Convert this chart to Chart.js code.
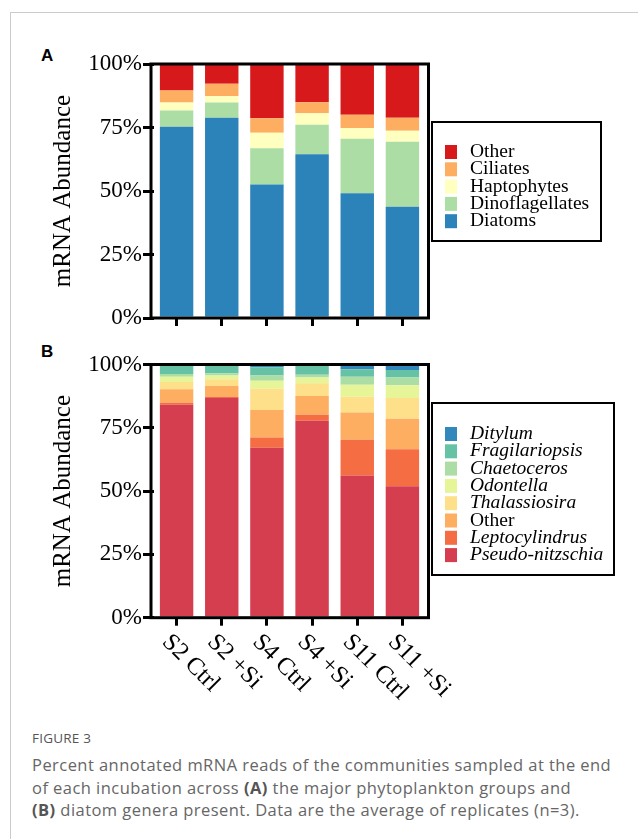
<!DOCTYPE html>
<html>
<head>
<meta charset="utf-8">
<script src="https://cdn.jsdelivr.net/npm/chart.js@4.4.1/dist/chart.umd.min.js"></script>
<style>
  body { margin: 0; background: #fff; }
  #page { position: relative; width: 638px; height: 839px; overflow: hidden; }
  #frame { position: absolute; left: 10px; top: 12px; width: 700px; height: 900px;
           border-left: 1px solid #cbcbcb; border-top: 1px solid #cbcbcb; }
  canvas { position: absolute; left: 0; }
  .panel { position: absolute; left: 41px; font: bold 17px "Liberation Sans", Arial, sans-serif; color: #000; }
  #cap { position: absolute; left: 32px; top: 729px; width: 606px; color: #666;
         font-family: "Open Sans", sans-serif; }
  #cap .fig { font-size: 13.5px; color: #555; letter-spacing: 0.2px; line-height: 18px; }
  #cap p { margin: 7px 0 0 0; font-size: 16.5px; letter-spacing: 0.45px; line-height: 22.5px; white-space: nowrap; }
  #cap b { color: #555; }
</style>
</head>
<body>
<div id="page">
  <div id="frame"></div>
  <div class="panel" style="top:46px">A</div>
  <div class="panel" style="top:342px">B</div>
  <canvas id="chartA" width="638" height="335" style="top:0"></canvas>
  <canvas id="chartB" width="638" height="385" style="top:335px"></canvas>
  <div id="cap">
    <div class="fig">FIGURE 3</div>
    <p>Percent annotated mRNA reads of the communities sampled at the end<br>of each incubation across <b>(A)</b> the major phytoplankton groups and<br><b>(B)</b> diatom genera present. Data are the average of replicates (n=3).</p>
  </div>
</div>
<script>
// sample names (x categories)
const samples = ['S2 Ctrl', 'S2 +Si', 'S4 Ctrl', 'S4 +Si', 'S11 Ctrl', 'S11 +Si'];
const yTicks = [0, 25, 50, 75, 100];

// panel A: major phytoplankton groups (% of annotated reads)
const diatoms = [75.3, 78.8, 52.6, 64.5, 49.1, 43.8];
const dinoflagellates = [6.4, 6.0, 14.2, 11.6, 21.5, 25.6];
const haptophytes = [3.1, 2.6, 6.1, 4.5, 4.2, 4.3];
const ciliates = [4.8, 4.8, 5.7, 4.3, 5.2, 5.1];
const otherGroups = [10.4, 7.8, 21.4, 15.1, 20.0, 21.2];

// panel B: diatom genera (% of diatom reads)
const pseudoNitzschia = [84.1, 86.8, 67.1, 77.8, 56.2, 51.9];
const leptocylindrus = [0.8, 0.5, 4.1, 2.4, 14.1, 14.6];
const otherGenera = [5.3, 4.2, 10.8, 7.4, 10.7, 12.1];
const thalassiosira = [2.9, 2.7, 8.4, 5.0, 6.3, 8.2];
const odontella = [2.1, 1.5, 3.2, 2.3, 4.7, 5.0];
const chaetoceros = [1.0, 0.8, 2.1, 1.1, 3.2, 3.1];
const fragilariopsis = [3.6, 3.3, 3.2, 3.8, 2.9, 2.9];
const ditylum = [0.2, 0.2, 1.1, 0.2, 1.9, 2.2];

const serif = '"Liberation Serif", "Times New Roman", serif';

// box around the plot area, a bit wider than the bars region
const framePlugin = {
  id: 'frame',
  afterDatasetsDraw(chart) {
    const { ctx, chartArea: a } = chart;
    ctx.save();
    ctx.strokeStyle = '#000';
    ctx.lineWidth = 3;
    ctx.strokeRect(a.left - 3, a.top, a.right - a.left + 6.5, a.bottom - a.top);
    ctx.restore();
  }
};

// legend inside a black box, top item = last dataset
const boxLegend = {
  id: 'boxLegend',
  afterDraw(chart, args, opts) {
    const ctx = chart.ctx;
    const items = chart.data.datasets.slice().reverse();
    ctx.save();
    ctx.strokeStyle = '#000';
    ctx.lineWidth = 2;
    ctx.strokeRect(opts.x, opts.y, opts.w, opts.h);
    ctx.textBaseline = 'middle';
    ctx.textAlign = 'left';
    items.forEach((ds, i) => {
      const cy = opts.y + opts.first + i * opts.step;
      ctx.fillStyle = ds.backgroundColor;
      ctx.fillRect(opts.x + 13, cy - 7, 12, 14);
      ctx.fillStyle = '#000';
      ctx.font = (opts.italic.includes(ds.label) ? 'italic ' : '') + '19.5px ' + serif;
      ctx.fillText(ds.label, opts.x + 38, cy);
    });
    ctx.restore();
  }
};

// category labels slanted downwards to the right
const slantLabels = {
  id: 'slantLabels',
  afterDraw(chart, args, opts) {
    if (!opts.show) return;
    const { ctx } = chart;
    const xs = chart.scales.x;
    ctx.save();
    ctx.fillStyle = '#000';
    ctx.font = '24.5px ' + serif;
    ctx.textAlign = 'left';
    ctx.textBaseline = 'top';
    chart.data.labels.forEach((lab, i) => {
      ctx.save();
      ctx.translate(xs.getPixelForTick(i) - 2, xs.top + 12);
      ctx.rotate(Math.PI / 4);
      ctx.fillText(lab, 0, 0);
      ctx.restore();
    });
    ctx.restore();
  }
};

function makeDataset(label, data, color) {
  return { label, data, backgroundColor: color, borderWidth: 0, barPercentage: 0.74, categoryPercentage: 1 };
}

function makeChart(id, datasets, topPad, xHeight, legendOpts, showLabels) {
  return new Chart(document.getElementById(id), {
    type: 'bar',
    data: { labels: samples, datasets },
    options: {
      responsive: false,
      animation: false,
      layout: { padding: { left: 0, right: 213, top: topPad, bottom: 0 } },
      scales: {
        x: {
          stacked: true,
          offset: true,
          border: { display: false },
          grid: { offset: false, drawOnChartArea: false, color: '#000', lineWidth: 3, tickLength: 8 },
          ticks: { display: false },
          afterFit: s => { s.height = xHeight; }
        },
        y: {
          stacked: true,
          min: 0,
          max: 100,
          afterBuildTicks: s => { s.ticks = yTicks.map(v => ({ value: v })); },
          border: { display: false },
          grid: { drawOnChartArea: false, color: '#000', lineWidth: 3, tickLength: 11 },
          ticks: { callback: v => v + '%', color: '#000', padding: 1, font: { family: serif, size: 23 } },
          title: { display: true, text: 'mRNA Abundance', color: '#000', padding: { top: 48 },
                   font: { family: serif, size: 25 } },
          afterFit: s => { s.width = 154; }
        }
      },
      plugins: {
        legend: { display: false },
        tooltip: { enabled: false },
        boxLegend: legendOpts,
        slantLabels: { show: showLabels }
      }
    },
    plugins: [framePlugin, boxLegend, slantLabels]
  });
}

makeChart('chartA', [
  makeDataset('Diatoms', diatoms, '#2b83ba'),
  makeDataset('Dinoflagellates', dinoflagellates, '#abdda4'),
  makeDataset('Haptophytes', haptophytes, '#ffffbf'),
  makeDataset('Ciliates', ciliates, '#fdae61'),
  makeDataset('Other', otherGroups, '#d7191c')
], 64, 17, { x: 432, y: 122, w: 169, h: 119, first: 30, step: 17.3, italic: [] }, false);

makeChart('chartB', [
  makeDataset('Pseudo-nitzschia', pseudoNitzschia, '#d53e4f'),
  makeDataset('Leptocylindrus', leptocylindrus, '#f46d43'),
  makeDataset('Other', otherGenera, '#fdae61'),
  makeDataset('Thalassiosira', thalassiosira, '#fee08b'),
  makeDataset('Odontella', odontella, '#e6f598'),
  makeDataset('Chaetoceros', chaetoceros, '#abdda4'),
  makeDataset('Fragilariopsis', fragilariopsis, '#66c2a5'),
  makeDataset('Ditylum', ditylum, '#3288bd')
], 29.5, 102.3, { x: 432, y: 68, w: 182, h: 172, first: 31, step: 17.3,
  italic: ['Ditylum', 'Fragilariopsis', 'Chaetoceros', 'Odontella', 'Thalassiosira', 'Leptocylindrus', 'Pseudo-nitzschia'] }, true);
</script>
</body>
</html>
